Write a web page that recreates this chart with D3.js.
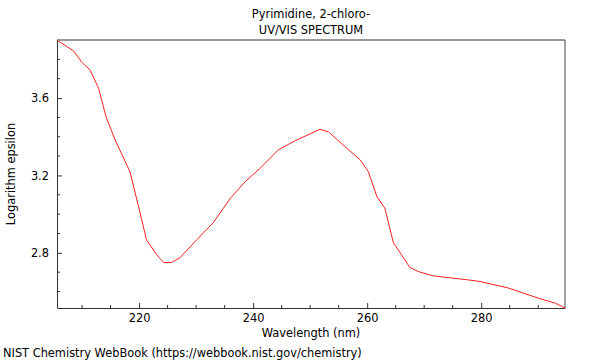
<!DOCTYPE html>
<html>
<head>
<meta charset="utf-8">
<script src="https://cdn.jsdelivr.net/npm/d3@7"></script>
<style>
  body { margin: 0; background: #fff; }
  svg { display: block; font-family: 'DejaVu Sans', sans-serif; }
</style>
</head>
<body>
<svg width="600" height="360"></svg>
<script>
const wavelength = [205.6, 208.5, 209.9, 211.4, 212.9, 214.2, 215.8, 218.4, 219.9, 221.3,
  223.1, 224.3, 225.7, 227.2, 230.1, 233.0, 236.0, 238.6, 241.5, 244.4,
  247.4, 251.7, 253.2, 255.8, 258.8, 260.2, 261.7, 263.1, 264.6, 267.5,
  269.0, 271.6, 277.5, 279.8, 284.8, 290.0, 293.0, 294.7]
const logEps = [3.899, 3.844, 3.787, 3.745, 3.650, 3.503, 3.383, 3.219, 3.039, 2.867,
  2.790, 2.750, 2.750, 2.776, 2.867, 2.956, 3.082, 3.168, 3.245, 3.332,
  3.380, 3.438, 3.426, 3.357, 3.280, 3.220, 3.091, 3.031, 2.853, 2.724,
  2.703, 2.681, 2.661, 2.652, 2.618, 2.566, 2.540, 2.515]
const xTicks = [220, 240, 260, 280]
const yTicks = [2.8, 3.2, 3.6]

const svg = d3.select('svg')
const mLeft = 57, mRight = 565, mTop = 40, mBottom = 308
const fs = 11.4

const x = d3.scaleLinear().domain([205.6, 294.7]).range([mLeft, mRight])
const y = d3.scaleLinear().domain([2.515, 3.9]).range([mBottom, mTop])

// titles
svg.append('text')
  .attr('x', (mLeft + mRight) / 2).attr('y', 18)
  .attr('text-anchor', 'middle').attr('font-size', fs)
  .text('Pyrimidine, 2-chloro-')
svg.append('text')
  .attr('x', (mLeft + mRight) / 2).attr('y', 34)
  .attr('text-anchor', 'middle').attr('font-size', fs)
  .text('UV/VIS SPECTRUM')

// frame
svg.append('line').attr('x1', mLeft).attr('x2', mRight).attr('y1', mTop).attr('y2', mTop)
  .attr('stroke', '#999').attr('stroke-width', 2)
svg.append('line').attr('x1', mRight).attr('x2', mRight).attr('y1', mTop).attr('y2', mBottom)
  .attr('stroke', '#444').attr('stroke-width', 1)

// axes
const xAxis = d3.axisBottom(x).tickValues(xTicks).tickSizeInner(-5).tickSizeOuter(0)
  .tickPadding(6).tickFormat(d3.format('d'))
const gx = svg.append('g').attr('transform', `translate(0,${mBottom})`).call(xAxis)

svg.append('g').attr('transform', `translate(0,${mBottom})`)
  .selectAll('line')
  .data(d3.range(210, 295, 5).filter(d => !xTicks.includes(d)))
  .join('line')
  .attr('x1', d => x(d)).attr('x2', d => x(d))
  .attr('y1', 0).attr('y2', -3)
  .attr('stroke', '#333')

const yAxis = d3.axisLeft(y).tickValues(yTicks).tickSizeInner(-5).tickSizeOuter(0)
  .tickPadding(8).tickFormat(d3.format('.1f'))
const gy = svg.append('g').attr('transform', `translate(${mLeft},0)`).call(yAxis)

svg.append('g').attr('transform', `translate(${mLeft},0)`)
  .selectAll('line')
  .data(d3.range(26, 39).map(d => d / 10).filter(d => !yTicks.includes(d)))
  .join('line')
  .attr('x1', 0).attr('x2', 3)
  .attr('y1', d => y(d)).attr('y2', d => y(d))
  .attr('stroke', '#333')

for (const g of [gx, gy]) {
  g.select('.domain').attr('stroke', '#333')
  g.selectAll('.tick line').attr('stroke', '#333')
  g.selectAll('.tick text').attr('font-size', fs).attr('fill', '#000')
    .attr('font-family', 'DejaVu Sans, sans-serif')
}

// labels
svg.append('text')
  .attr('x', (mLeft + mRight) / 2).attr('y', 337)
  .attr('text-anchor', 'middle').attr('font-size', fs)
  .text('Wavelength (nm)')
svg.append('text')
  .attr('transform', `translate(15,${(mTop + mBottom) / 2}) rotate(-90)`)
  .attr('text-anchor', 'middle').attr('font-size', fs)
  .text('Logarithm epsilon')
svg.append('text')
  .attr('x', 3).attr('y', 357)
  .attr('font-size', fs)
  .text('NIST Chemistry WebBook (https://webbook.nist.gov/chemistry)')

// spectrum
const line = d3.line().x((d, i) => x(wavelength[i])).y(d => y(d))
svg.append('path')
  .datum(logEps)
  .attr('d', line)
  .attr('fill', 'none')
  .attr('stroke', '#ff2020')
  .attr('stroke-width', 1)
</script>
</body>
</html>
